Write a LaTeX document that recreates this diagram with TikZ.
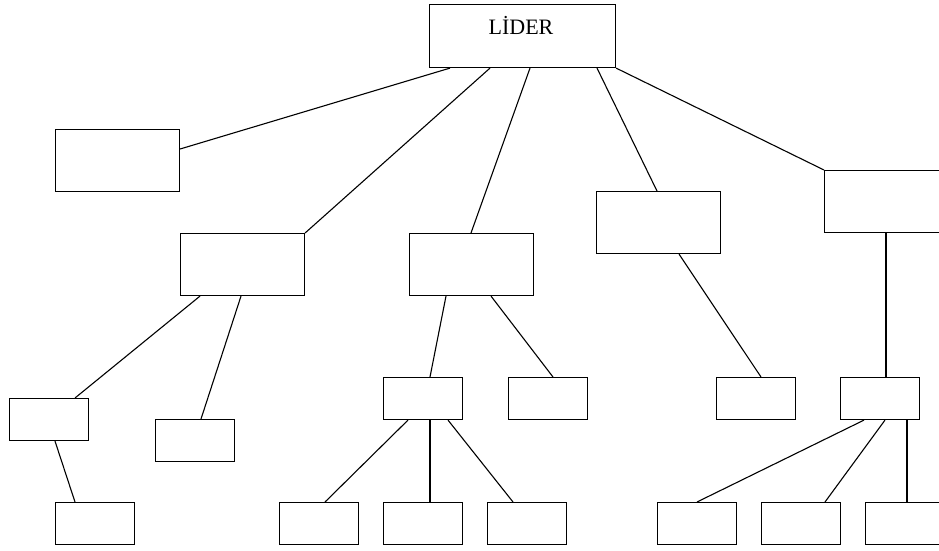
\documentclass[tikz,border=0pt]{standalone}
\usepackage{fontspec}
\setmainfont{Liberation Serif}
\begin{document}
\begin{tikzpicture}[x=1pt,y=-1pt,
  box/.style={draw,line width=1.1pt,anchor=north west,inner sep=0pt,
              minimum width=#1*1pt},
  big/.style={box=124,minimum height=62pt},
  small/.style={box=79,minimum height=42pt},
  link/.style={line width=1.1pt}]
\useasboundingbox (0,0) rectangle (939,551);
\clip (0,0) rectangle (939,551);

% top of the chart
\node[box=186,minimum height=63pt] (L) at (429,4) {};
\node[font=\fontsize{22}{24}\selectfont,anchor=base] (Lt) at (521,35) {LİDER};

% second level
\node[big] (A) at (55,129) {};
\node[big] (B) at (180,233) {};
\node[big] (C) at (409,233) {};
\node[big] (D) at (596,191) {};
\node[big] (E) at (824,170) {};

% third level
\node[small] (B1) at (9,398) {};
\node[small] (B2) at (155,419) {};
\node[small] (C1) at (383,377) {};
\node[small] (C2) at (508,377) {};
\node[small] (D1) at (716,377) {};
\node[small] (E1) at (840,377) {};

% bottom row
\node[small] (B1a) at (55,502) {};
\node[small] (C1a) at (279,502) {};
\node[small] (C1b) at (383,502) {};
\node[small] (C1c) at (487,502) {};
\node[small] (E1a) at (657,502) {};
\node[small] (E1b) at (761,502) {};
\node[small] (E1c) at (865,502) {};

% connectors from the leader
\draw[link] ([xshift=21pt]L.south west) -- ([yshift=-20pt]A.north east);
\draw[link] ([xshift=61pt]L.south west) -- (B.north east);
\draw[link] ([xshift=101pt]L.south west) -- ([xshift=62pt]C.north west);
\draw[link] ([xshift=168pt]L.south west) -- ([xshift=61pt]D.north west);
\draw[link] (L.south east) -- (E.north west);

% connectors below the second level
\draw[link] ([xshift=20pt]B.south west) -- ([xshift=66pt]B1.north west);
\draw[link] ([xshift=61pt]B.south west) -- ([xshift=46pt]B2.north west);
\draw[link] ([xshift=37pt]C.south west) -- ([xshift=47pt]C1.north west);
\draw[link] ([xshift=82pt]C.south west) -- ([xshift=45pt]C2.north west);
\draw[link] ([xshift=83pt]D.south west) -- ([xshift=45pt]D1.north west);
\draw[link] ([xshift=62pt]E.south west) -- ([xshift=46pt]E1.north west);

% connectors to the bottom row
\draw[link] ([xshift=46pt]B1.south west) -- ([xshift=20pt]B1a.north west);
\draw[link] ([xshift=25pt]C1.south west) -- ([xshift=46pt]C1a.north west);
\draw[link] ([xshift=47pt]C1.south west) -- ([xshift=47pt]C1b.north west);
\draw[link] ([xshift=65pt]C1.south west) -- ([xshift=26pt]C1c.north west);
\draw[link] ([xshift=24pt]E1.south west) -- ([xshift=40pt]E1a.north west);
\draw[link] ([xshift=45pt]E1.south west) -- ([xshift=64pt]E1b.north west);
\draw[link] ([xshift=67pt]E1.south west) -- ([xshift=42pt]E1c.north west);
\end{tikzpicture}
\end{document}
